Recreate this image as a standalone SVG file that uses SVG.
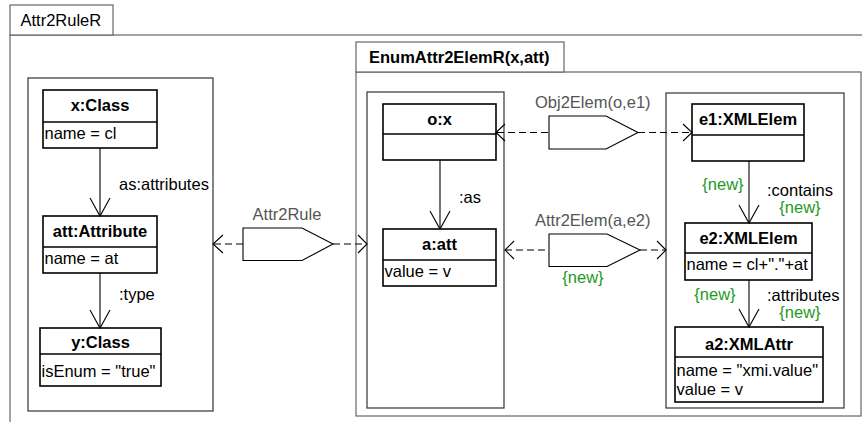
<svg xmlns="http://www.w3.org/2000/svg" width="862" height="422" viewBox="0 0 862 422">
  <defs>
    <style>
      text { font-family: "Liberation Sans", Arial, sans-serif; font-size: 16.5px; fill: #000; }
      .b { font-weight: bold; }
      .mid { text-anchor: middle; }
      .gray { fill: #555; }
      .new { fill: #1e9a1e; }
      .frame { fill: #fff; stroke: #666; stroke-width: 1.2; }
      .model { fill: #fff; stroke: #333; stroke-width: 1.2; }
      .node { fill: #fff; stroke: #000; stroke-width: 1.6; }
      .edge { fill: none; stroke: #000; stroke-width: 1.1; }
      .dash { fill: none; stroke: #000; stroke-width: 1.1; stroke-dasharray: 7 4; }
      .rule { fill: #fff; stroke: #000; stroke-width: 1.1; }
    </style>
  </defs>

  <rect width="862" height="422" fill="#fff"/>

  <!-- outer rule frame -->
  <g id="frame-Attr2RuleR">
    <rect class="frame" x="10" y="35" width="900" height="420"/>
    <rect class="frame" x="10" y="5" width="103" height="30"/>
    <text x="20.5" y="26">Attr2RuleR</text>
  </g>

  <!-- nested rule frame -->
  <g id="frame-EnumAttr2ElemR">
    <rect class="frame" x="356" y="72" width="505" height="344"/>
    <rect class="frame" x="356" y="42" width="208" height="30"/>
    <text class="b" x="369" y="63">EnumAttr2ElemR(x,att)</text>
  </g>

  <!-- model containers -->
  <g id="model-source">
    <rect class="model" x="28" y="78" width="185" height="333"/>
  </g>
  <g id="model-middle">
    <rect class="model" x="367" y="92" width="137" height="316"/>
  </g>
  <g id="model-target">
    <rect class="model" x="666" y="93" width="178" height="315"/>
  </g>

  <!-- nodes -->
  <g id="x-Class">
    <rect class="node" x="43" y="90" width="114" height="58"/>
    <line class="node" x1="43" y1="122" x2="157" y2="122"/>
    <text class="b mid" x="100" y="111">x:Class</text>
    <text x="44.5" y="139">name = cl</text>
  </g>
  <g id="att-Attribute">
    <rect class="node" x="43" y="216" width="114" height="57"/>
    <line class="node" x1="43" y1="247" x2="157" y2="247"/>
    <text class="b mid" x="100" y="237">att:Attribute</text>
    <text x="44.5" y="264">name = at</text>
  </g>
  <g id="y-Class">
    <rect class="node" x="40" y="328" width="121" height="58"/>
    <line class="node" x1="40" y1="354" x2="161" y2="354"/>
    <text class="b mid" x="100.5" y="348">y:Class</text>
    <text x="41.5" y="377">isEnum = "true"</text>
  </g>
  <g id="o-x">
    <rect class="node" x="383" y="104" width="113" height="56"/>
    <line class="node" x1="383" y1="134" x2="496" y2="134"/>
    <text class="b mid" x="439.5" y="125">o:x</text>
  </g>
  <g id="a-att">
    <rect class="node" x="383" y="229" width="113" height="57"/>
    <line class="node" x1="383" y1="260" x2="496" y2="260"/>
    <text class="b mid" x="439.5" y="250">a:att</text>
    <text x="384.5" y="277">value = v</text>
  </g>
  <g id="e1-XMLElem">
    <rect class="node" x="692" y="104" width="112" height="57"/>
    <line class="node" x1="692" y1="135" x2="804" y2="135"/>
    <text class="b mid" x="748" y="125">e1:XMLElem</text>
  </g>
  <g id="e2-XMLElem">
    <rect class="node" x="685" y="223" width="127" height="57"/>
    <line class="node" x1="685" y1="253" x2="812" y2="253"/>
    <text class="b mid" x="748.5" y="244">e2:XMLElem</text>
    <text x="686.5" y="270">name = cl+"."+at</text>
  </g>
  <g id="a2-XMLAttr">
    <rect class="node" x="675" y="327" width="148" height="75"/>
    <line class="node" x1="675" y1="357" x2="823" y2="357"/>
    <text class="b mid" x="749" y="350">a2:XMLAttr</text>
    <text x="676.5" y="376">name = "xmi.value"</text>
    <text x="676.5" y="395">value = v</text>
  </g>

  <!-- rule-call markers -->
  <g id="call-Attr2Rule">
    <path class="rule" d="M243,228 H302 L333,244 L302,260.5 H243 Z"/>
    <text class="gray mid" x="287" y="220">Attr2Rule</text>
  </g>
  <g id="call-Obj2Elem">
    <path class="rule" d="M549,116 H606 L638,132.5 L606,149 H549 Z"/>
    <text class="gray" x="535" y="108">Obj2Elem(o,e1)</text>
  </g>
  <g id="call-Attr2Elem">
    <path class="rule" d="M549,234 H607 L640,250 L607,266.5 H549 Z"/>
    <text class="gray" x="535" y="226">Attr2Elem(a,e2)</text>
    <text class="new mid" x="583" y="283">{new}</text>
  </g>

  <!-- connectors -->
  <g id="connectors">
    <!-- links inside the source model -->
    <line class="edge" x1="100" y1="148" x2="100" y2="216"/>
    <polyline class="edge" points="90,198 100,216 110,198"/>
    <text x="119" y="190">as:attributes</text>
    <line class="edge" x1="100" y1="273" x2="100" y2="328"/>
    <polyline class="edge" points="90,310 100,328 110,310"/>
    <text x="119" y="300">:type</text>

    <!-- link inside the middle model -->
    <line class="edge" x1="440" y1="160" x2="440" y2="229"/>
    <polyline class="edge" points="430,211 440,229 450,211"/>
    <text x="459" y="203">:as</text>

    <!-- links inside the target model -->
    <line class="edge" x1="749" y1="161" x2="749" y2="223"/>
    <polyline class="edge" points="739,205 749,223 759,205"/>
    <text class="new mid" x="723" y="190">{new}</text>
    <text x="767" y="196">:contains</text>
    <text class="new mid" x="800" y="213">{new}</text>
    <line class="edge" x1="749" y1="280" x2="749" y2="327"/>
    <polyline class="edge" points="739,309 749,327 759,309"/>
    <text class="new mid" x="715" y="300">{new}</text>
    <text x="767" y="301">:attributes</text>
    <text class="new mid" x="800" y="318">{new}</text>

    <!-- Attr2Rule call links -->
    <line class="dash" x1="214" y1="244" x2="243" y2="244"/>
    <polyline class="edge" points="223,235 213,244 223,253"/>
    <line class="dash" x1="333" y1="244" x2="366" y2="244"/>
    <polyline class="edge" points="358,235 367,244 358,253"/>

    <!-- Obj2Elem call links -->
    <line class="dash" x1="497" y1="132.5" x2="549" y2="132.5"/>
    <polyline class="edge" points="505,124 496,132.5 505,141"/>
    <line class="dash" x1="638" y1="132.5" x2="691" y2="132.5"/>
    <polyline class="edge" points="683,124 692,132.5 683,141"/>

    <!-- Attr2Elem call links -->
    <line class="dash" x1="505" y1="250" x2="549" y2="250"/>
    <polyline class="edge" points="514,241 505,250 514,259"/>
    <line class="dash" x1="640" y1="250" x2="665" y2="250"/>
    <polyline class="edge" points="657,241 666,250 657,259"/>
  </g>
</svg>
